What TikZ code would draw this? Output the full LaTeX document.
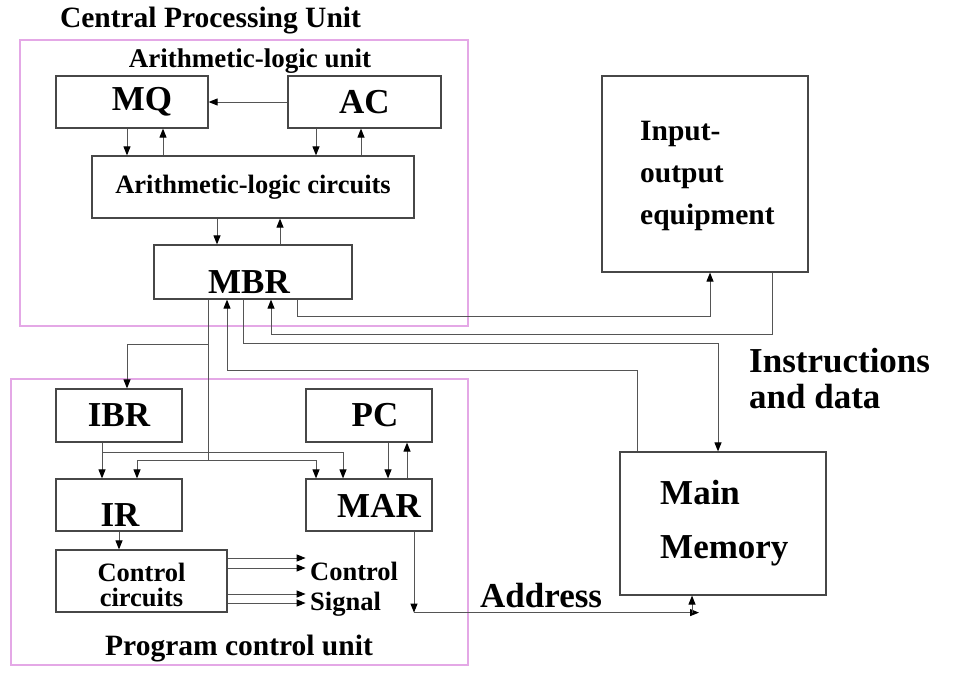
\documentclass[tikz,border=0pt]{standalone}
\usepackage{fontspec}
\setmainfont{Liberation Serif}
\usetikzlibrary{calc,arrows.meta}

\definecolor{unitpink}{RGB}{228,168,230}
\definecolor{wiregray}{RGB}{85,85,85}

\newcommand{\bigtxt}{\bfseries\fontsize{35}{40}\selectfont}
\newcommand{\headtxt}{\bfseries\fontsize{29.5}{42}\selectfont}
\newcommand{\midtxt}{\bfseries\fontsize{26.5}{25}\selectfont}

\begin{document}
\begin{tikzpicture}[x=1pt,y=-1pt,
                    >={Triangle[length=9pt,width=7pt,color=black]},   % arrow tip
                    every node/.style={inner sep=0pt},
                    every label/.style={font=\bigtxt},
                    font=\bfseries,
                    reg/.style={draw=black!72,line width=1.2pt,font=\bigtxt},
                    unit/.style={draw=unitpink,line width=1.6pt},
                    bus/.style={draw=wiregray,line width=1pt}]

\useasboundingbox (0,0) rectangle (955,677);

%%%% units
\node[unit,minimum width=448,minimum height=286] (cpu) at (244,183) {};
\node[anchor=base,font=\headtxt] (cputitle) at (210.5,28) {Central Processing Unit};
\node[anchor=base,font=\bfseries\fontsize{27}{30}\selectfont] (alutitle) at (250,67) {Arithmetic-logic unit};

\node[unit,minimum width=457,minimum height=286] (pcu) at (239.5,522) {};
\node[anchor=base,font=\headtxt] (pcutitle) at (239,655) {Program control unit};

%%%% arithmetic-logic unit
\node[reg,minimum width=152,minimum height=52,label={[shift={(10,0)}]center:MQ}] (mq) at (132,102) {};
\node[reg,minimum width=153,minimum height=52] (ac) at (364.5,102) {AC};
\node[reg,minimum width=322,minimum height=62,font=\midtxt] (alc) at (253,187) {Arithmetic-logic circuits};
\node[reg,minimum width=198,minimum height=54,label={[shift={(-4,10)}]center:MBR}] (mbr) at (253,272) {};

%%%% program control unit
\node[reg,minimum width=126,minimum height=53] (ibr) at (119,415.5) {IBR};
\node[reg,minimum width=126,minimum height=53,label={[shift={(6,0)}]center:PC}] (pc) at (369,415.5) {};
\node[reg,minimum width=126,minimum height=52,label={[shift={(1,10)}]center:IR}] (ir) at (119,505) {};
\node[reg,minimum width=126,minimum height=52,label={[shift={(10,1)}]center:MAR}] (mar) at (369,505) {};
\node[reg,minimum width=171,minimum height=62,
      label={[shift={(0,4)},align=center,font=\midtxt]center:Control\\circuits}] (ctrl) at (141.5,581) {};

\node[anchor=base west,font=\midtxt] (ctrlsig) at (310,580) {Control};
\node[anchor=base west,font=\midtxt] (signal) at (310,610) {Signal};

%%%% outside
\node[reg,minimum width=206,minimum height=196] (io) at (705,174) {};
\node[anchor=west,align=left,font=\bfseries\fontsize{29.5}{42}\selectfont] (iotxt) at (640,176) {Input-\\output\\equipment};

\node[reg,minimum width=206,minimum height=143] (mem) at (723,523.5) {};
\node[anchor=west,align=left,font=\bfseries\fontsize{35}{54}\selectfont] (memtxt) at (660,523) {Main\\Memory};

\node[anchor=base west,align=left,font=\bfseries\fontsize{35}{36}\selectfont] (insdata) at (749,408) {Instructions\\and data};
\node[anchor=base west,font=\bigtxt] (addr) at (480,607) {Address};

%% ARROWS
% inside ALU
\draw[bus,->] (ac.west) -- (mq.east);
\draw[bus,->] ([xshift=-5]mq.south) -- ([xshift=-5]mq.south |- alc.north);
\draw[bus,->] ([xshift=31]mq.south |- alc.north) -- ([xshift=31]mq.south);
\draw[bus,->] ([xshift=-48.5]ac.south) -- ([xshift=-48.5]ac.south |- alc.north);
\draw[bus,->] ([xshift=-3.5]ac.south |- alc.north) -- ([xshift=-3.5]ac.south);
\draw[bus,->] ([xshift=-36]alc.south) -- ([xshift=-36]alc.south |- mbr.north);
\draw[bus,->] ([xshift=27]alc.south |- mbr.north) -- ([xshift=27]alc.south);

% MBR to the registers
\draw[bus,->] ([xshift=-45]mbr.south) -- ++(0,45) -| ([xshift=8]ibr.north);
\draw[bus] ([xshift=-45]mbr.south) -- ++(0,161) coordinate (jreg);
\draw[bus,->] (jreg) -| ([xshift=18]ir.north);
\draw[bus,->] (jreg) -| ([xshift=-53]mar.north);

% IBR
\draw[bus,->] ([xshift=-17]ibr.south) -- ([xshift=-17]ir.north);
\draw[bus,->] ([xshift=-17]ibr.south) -- ++(0,10) -| ([xshift=-26]mar.north);

% PC, MAR
\draw[bus,->] ([xshift=19]pc.south) -- ([xshift=19]mar.north);
\draw[bus,->] ([xshift=38]mar.north) -- ([xshift=38]pc.south);

% control
\draw[bus,->] (ir.south) -- (ir.south |- ctrl.north);
\foreach \dy in {-23,-13,13,22}
  \draw[bus,->] ([shift={(0,\dy)}]ctrl.east) -- ++(78,0);

% address
\draw[bus,->] ([xshift=45]mar.south) -- ++(0,81) coordinate (addrw);
\draw[bus,->] (addrw) -- ++(285,0);
\draw[bus,->] ([xshift=-31]mem.south |- addrw) -- ([xshift=-31]mem.south);

% input-output
\draw[bus,->] ([xshift=44]mbr.south) -- ++(0,17) -| ([xshift=5]io.south);
\draw[bus,->] ([xshift=67]io.south) -- ++(0,62) -| ([xshift=18]mbr.south);

% main memory
\draw[bus,->] ([xshift=-10]mbr.south) -- ++(0,44) -| ([xshift=-5]mem.north);
\draw[bus,->] ([xshift=-86]mem.north) -- ++(0,-81) -| ([xshift=-26]mbr.south);

\end{tikzpicture}
\end{document}
